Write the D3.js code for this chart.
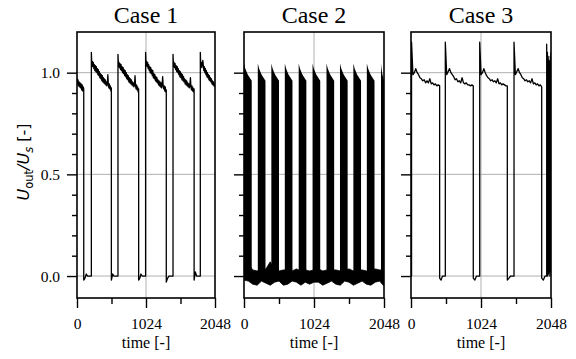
<!DOCTYPE html>
<html>
<head>
<meta charset="utf-8">
<script src="https://cdn.jsdelivr.net/npm/d3@7"></script>
<style>
  body { margin: 0; background: #fff; }
  svg { display: block; }
  .tick line { stroke: #000; stroke-width: 1.4; }
</style>
</head>
<body>
<svg id="chart" width="576" height="359"></svg>
<script>
const titles = ["Case 1", "Case 2", "Case 3"];
const xTicks = [0, 1024, 2048];
const xMinor = [512, 1536];
const yTicks = [0, 0.5, 1.0];
const yMinor = [0.1, 0.2, 0.3, 0.4, 0.6, 0.7, 0.8, 0.9];

// segments: [t start, t end, values spread evenly over the segment]
const case1 = [
  [0, 100, [0.975, 0.945, 0.965, 0.935, 0.955, 0.93, 0.95, 0.925, 0.945, 0.915, 0.94, 0.91, 0.93, 0.92]],
  [100, 213, [-0.02, -0.01, 0.01, 0, 0, 0, 0]],
  [213, 510, [1.10, 1.03, 1.055, 1.03, 1.05, 1.02, 1.04, 1.01, 1.035, 1.005, 1.03, 1.00, 1.02, 0.99, 1.015, 0.985, 1.005, 0.975, 0.995, 0.97,
    0.99, 0.96, 0.985, 0.955, 0.975, 0.95, 0.97, 0.945, 0.965, 0.94, 0.955, 0.935, 0.95, 0.99, 0.94, 0.925, 0.945, 0.92, 0.935, 0.91, 0.925]],
  [510, 608, [-0.02, 0.01, 0, 0, 0, 0]],
  [608, 915, [1.09, 1.03, 1.05, 1.025, 1.045, 1.015, 1.04, 1.01, 1.03, 1.0, 1.025, 0.995, 1.015, 0.985, 1.01, 0.98, 1.0, 0.97, 0.99, 0.965,
    0.985, 0.955, 0.975, 0.95, 0.97, 0.945, 0.965, 0.94, 0.955, 0.935, 0.95, 0.93, 0.945, 0.985, 0.935, 0.92, 0.94, 0.915, 0.93, 0.905, 0.92]],
  [915, 1018, [-0.02, -0.01, 0.01, 0, 0, 0, 0]],
  [1018, 1325, [1.10, 1.035, 1.055, 1.03, 1.05, 1.02, 1.04, 1.01, 1.03, 1.0, 1.025, 0.995, 1.015, 0.985, 1.01, 0.975, 0.995, 0.97, 0.99, 0.96,
    0.98, 0.955, 0.975, 0.95, 0.965, 0.94, 0.96, 0.935, 0.955, 0.93, 0.95, 0.925, 0.945, 0.98, 0.935, 0.92, 0.935, 0.91, 0.93, 0.905, 0.915]],
  [1325, 1425, [-0.03, -0.01, 0.0, 0, 0, 0]],
  [1425, 1738, [1.09, 1.03, 1.05, 1.025, 1.045, 1.015, 1.035, 1.005, 1.03, 1.0, 1.02, 0.99, 1.01, 0.98, 1.005, 0.975, 0.995, 0.965, 0.99, 0.96,
    0.98, 0.955, 0.97, 0.945, 0.965, 0.94, 0.96, 0.935, 0.95, 0.93, 0.945, 0.925, 0.94, 0.975, 0.93, 0.915, 0.935, 0.91, 0.925, 0.905, 0.92]],
  [1738, 1830, [-0.02, 0.02, 0, 0, 0, 0]],
  [1830, 2048, [1.10, 1.03, 1.05, 1.025, 1.045, 1.06, 1.035, 1.01, 1.03, 1.0, 1.02, 0.99, 1.01, 0.98, 1.0,
    0.975, 0.99, 0.965, 0.985, 0.96, 0.975, 0.955, 0.97, 0.945, 0.96, 0.94, 0.955, 0.935, 0.945, 0.93]]
];

const case2Starts = [0, 202, 400, 597, 800, 1003, 1207, 1404, 1600, 1797, 2004];
const case2Ends = [113, 314, 512, 709, 912, 1115, 1319, 1516, 1712, 1909, 2048];
const case2Top = [1.045, 1.02, 1.005, 0.99, 0.98, 0.97, 0.96];
// noise band around zero, upper and lower edge every 64 samples
const case2NoiseHi = [0.03, 0.06, 0.03, 0.025, 0.03, 0.035, 0.07, 0.03, 0.025, 0.03, 0.03, 0.025, 0.035, 0.025, 0.03, 0.025, 0.03,
  0.035, 0.025, 0.03, 0.03, 0.03, 0.025, 0.03, 0.035, 0.025, 0.03, 0.03, 0.025, 0.03, 0.035, 0.03, 0.03];
const case2NoiseLo = [-0.02, -0.025, -0.04, -0.045, -0.025, -0.035, -0.045, -0.03, -0.025, -0.045, -0.04, -0.025, -0.03, -0.045, -0.03, -0.04, -0.03,
  -0.03, -0.045, -0.035, -0.025, -0.04, -0.045, -0.025, -0.03, -0.045, -0.035, -0.025, -0.04, -0.045, -0.03, -0.025, -0.05];

const case3 = [
  [0, 8, [0.0, 0.0]],
  [8, 419, [1.15, 0.99, 1.00, 1.02, 1.00, 0.99, 0.975, 0.97, 0.96, 0.965, 0.95, 0.96, 0.95, 0.97, 0.945, 0.95, 0.94, 0.945, 0.935, 0.94, 0.935]],
  [419, 502, [-0.01, -0.02, 0.0, 0.0, 0.0]],
  [502, 911, [1.15, 0.99, 1.005, 1.02, 1.00, 0.99, 0.98, 0.965, 0.97, 0.955, 0.96, 0.95, 0.975, 0.95, 0.945, 0.95, 0.94, 0.94, 0.935, 0.94, 0.935]],
  [911, 1005, [-0.01, -0.02, 0.0, 0, 0]],
  [1005, 1409, [1.15, 0.99, 1.00, 1.02, 1.00, 0.985, 0.975, 0.97, 0.96, 0.965, 0.955, 0.96, 0.95, 0.97, 0.945, 0.95, 0.94, 0.945, 0.94, 0.935, 0.935]],
  [1409, 1507, [-0.02, -0.01, 0.0, 0, 0]],
  [1507, 1912, [1.15, 0.99, 1.005, 1.02, 1.00, 0.99, 0.975, 0.97, 0.96, 0.965, 0.955, 0.96, 0.95, 0.97, 0.945, 0.95, 0.94, 0.945, 0.935, 0.94, 0.93]],
  [1912, 1985, [-0.01, -0.02, 0.0, 0.0]],
  [1985, 2048, [1.14, 0.02, 1.10, 0.0, 1.08, 0.01, 1.06, 0.02, 1.05, 0.0, 1.08, 0.02, 1.1]]
];

const panelX = [[77, 215], [244, 384], [411, 551]];
const plotTop = 32, plotBottom = 298;
const serif = "Liberation Serif";

const svg = d3.select("#chart");

const y = d3.scaleLinear().domain([-0.108, 1.2]).range([plotBottom, plotTop]);

function segPoints(segs) {
  return segs.flatMap(([t0, t1, vals]) =>
    vals.map((v, i) => [t0 + (t1 - t0) * i / (vals.length - 1), v]));
}

function styleTicks(axisG) {
  axisG.select(".domain").remove();
  axisG.attr("font-family", serif).attr("font-size", 15.5);
  axisG.selectAll("text").attr("fill", "#000");
}

panelX.forEach(([x0, x1], p) => {
  const x = d3.scaleLinear().domain([0, 2048]).range([x0, x1]);
  const g = svg.append("g");

  g.append("clipPath").attr("id", `clip${p}`)
    .append("rect").attr("x", x0).attr("y", plotTop).attr("width", x1 - x0).attr("height", plotBottom - plotTop);

  // grid
  g.selectAll(".hgrid").data(yTicks).join("line")
    .attr("x1", x0).attr("x2", x1)
    .attr("y1", d => y(d)).attr("y2", d => y(d))
    .attr("stroke", "#b0b0b0").attr("stroke-width", 1);
  g.append("line")
    .attr("x1", x(1024)).attr("x2", x(1024)).attr("y1", plotTop).attr("y2", plotBottom)
    .attr("stroke", "#b0b0b0").attr("stroke-width", 1);

  const line = d3.line().x(d => x(d[0])).y(d => y(d[1]));
  const plot = g.append("g").attr("clip-path", `url(#clip${p})`);

  if (p === 1) {
    const area = d3.area()
      .x(d => x(d[0])).y0(y(-0.02)).y1(d => y(d[1]));
    case2Starts.forEach((s, i) => {
      const e = case2Ends[i];
      const pts = case2Top.map((v, k) => [s + (e - s) * k / (case2Top.length - 1), v]);
      plot.append("path").attr("d", area(pts)).attr("fill", "#000");
    });
    const band = d3.area()
      .x((d, k) => x(k * 64)).y0(d => y(d[0])).y1(d => y(d[1]));
    const bandData = case2NoiseLo.map((lo, k) => [lo, case2NoiseHi[k]]);
    plot.append("path").attr("d", band(bandData))
      .attr("fill", "#000").attr("stroke", "#000").attr("stroke-width", 0.8);
  } else {
    const pts = segPoints(p === 0 ? case1 : case3);
    plot.append("path").attr("d", line(pts))
      .attr("fill", "none").attr("stroke", "#000").attr("stroke-width", 1.3)
      .attr("stroke-linejoin", "round");
  }

  // x axis
  const xa = g.append("g").attr("transform", `translate(0,${plotBottom})`)
    .call(d3.axisBottom(x).tickValues(xTicks).tickSize(10).tickPadding(10).tickSizeOuter(0)
      .tickFormat(d3.format("d")));
  styleTicks(xa);
  const xm = g.append("g").attr("transform", `translate(0,${plotBottom})`)
    .call(d3.axisBottom(x).tickValues(xMinor).tickSize(6).tickFormat(""));
  styleTicks(xm);

  // y axis
  const ya = g.append("g").attr("transform", `translate(${x0},0)`)
    .call(d3.axisLeft(y).tickValues(yTicks).tickSize(10).tickPadding(7)
      .tickFormat(p === 0 ? d3.format(".1f") : ""));
  styleTicks(ya);
  const ym = g.append("g").attr("transform", `translate(${x0},0)`)
    .call(d3.axisLeft(y).tickValues(yMinor).tickSize(5).tickFormat(""));
  styleTicks(ym);

  // frame
  g.append("rect").attr("x", x0).attr("y", plotTop).attr("width", x1 - x0).attr("height", plotBottom - plotTop)
    .attr("fill", "none").attr("stroke", "#000").attr("stroke-width", 1.6);

  g.append("text").attr("x", (x0 + x1) / 2).attr("y", 23)
    .attr("text-anchor", "middle")
    .attr("font-family", serif)
    .attr("font-size", 24).text(titles[p]);

  g.append("text").attr("x", (x0 + x1) / 2).attr("y", 348)
    .attr("text-anchor", "middle")
    .attr("font-family", serif)
    .attr("font-size", 16).text("time [-]");
});

// y label
const yl = svg.append("text")
  .attr("transform", "translate(29,162) rotate(-90)")
  .attr("text-anchor", "middle")
  .attr("font-family", "DejaVu Sans")
  .attr("font-size", 16);
yl.append("tspan").attr("font-style", "italic").text("U");
yl.append("tspan").attr("font-size", 11.5).attr("dy", 3.5).text("out");
yl.append("tspan").attr("dy", -3.5).attr("font-style", "italic").text("/U");
yl.append("tspan").attr("font-size", 11.5).attr("font-style", "italic").attr("dy", 3.5).text("s");
yl.append("tspan").attr("dy", -3.5).text(" [-]");
</script>
</body>
</html>
